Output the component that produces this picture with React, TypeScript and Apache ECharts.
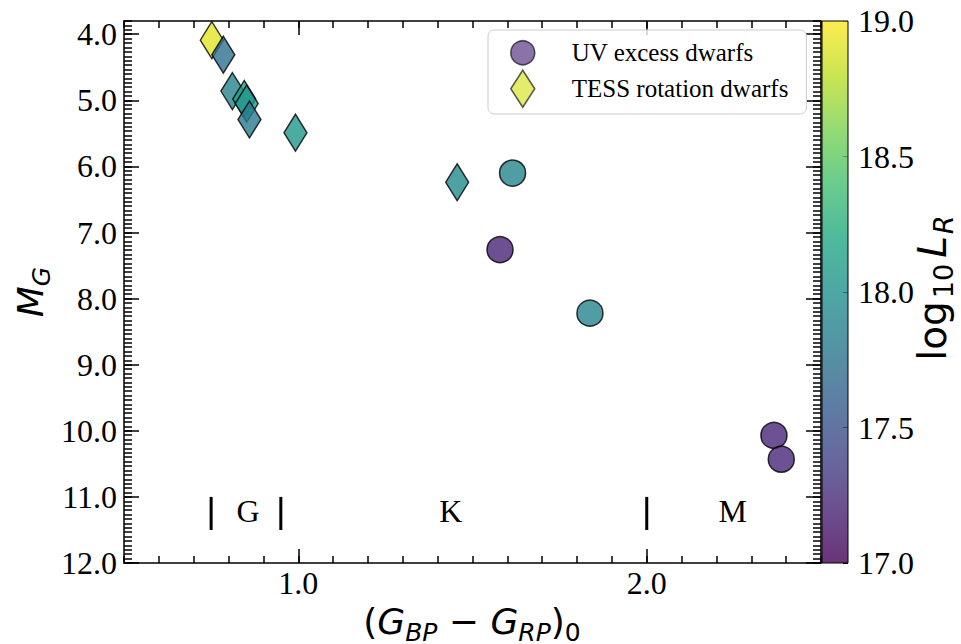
import { useEffect, useRef } from "react";
import * as echarts from "echarts";

// UV excess dwarfs
const uvColor = [1.615, 1.579, 1.837, 2.365, 2.386];
const uvMag = [6.1, 7.26, 8.22, 10.07, 10.43];
const uvLogLR = [17.9, 17.2, 17.9, 17.22, 17.22];

// TESS rotation dwarfs
const tessColor = [0.752, 0.785, 0.811, 0.845, 0.852, 0.86, 0.992, 1.456];
const tessMag = [4.09, 4.31, 4.86, 4.98, 5.05, 5.29, 5.49, 6.24];
const tessLogLR = [18.92, 17.74, 17.88, 18.12, 18.02, 17.82, 18.05, 17.95];

// axes
const xRange = [0.5, 2.5];
const yRange = [3.8, 12.0];
const cbRange = [17.0, 19.0];
const xMajorTicks = [1.0, 2.0];
const yMajorTicks = [4, 5, 6, 7, 8, 9, 10, 11, 12];
const cbTicks = [17.0, 17.5, 18.0, 18.5, 19.0];
const xMinorPerUnit = 10;
const yMinorPerUnit = 15;

// spectral class annotations
const classBoundaries = [0.75, 0.95, 2.0];
const boundarySpan = [11.0, 11.5];
const classLabels = ["G", "K", "M"];
const classLabelX = [0.856, 1.438, 2.247];
const classLabelY = [11.22, 11.22, 11.22];

const viridis = [
  "#440154", "#482475", "#414487", "#355f8d", "#2a788e", "#21918c",
  "#22a884", "#44bf70", "#7ad151", "#bddf26", "#fde725",
];

function rgba(hex: string, a: number) {
  const r = parseInt(hex.slice(1, 3), 16);
  const g = parseInt(hex.slice(3, 5), 16);
  const b = parseInt(hex.slice(5, 7), 16);
  return `rgba(${r},${g},${b},${a})`;
}

function minorTicks(range: number[], perUnit: number) {
  const out: number[] = [];
  const start = Math.ceil(range[0] * perUnit - 1e-9);
  const end = Math.floor(range[1] * perUnit + 1e-9);
  for (let k = start; k <= end; k++) out.push(k / perUnit);
  return out;
}

const SERIF = "'Liberation Serif', 'Times New Roman', serif";
const SANS = "'DejaVu Sans', sans-serif";

export default function App() {
  const ref = useRef<HTMLDivElement>(null);
  useEffect(() => {
    const chart = echarts.init(ref.current!, null, { renderer: "svg" });
    const tickLine = { color: "#000", width: 1.5 };
    const xMinor = minorTicks(xRange, xMinorPerUnit);
    const yMinor = minorTicks(yRange, yMinorPerUnit);

    const xAxisDef = (position: string, major: boolean) => ({
      type: "value",
      gridIndex: 0,
      position,
      min: xRange[0],
      max: xRange[1],
      axisLine: { show: major, onZero: false, lineStyle: tickLine },
      axisTick: {
        show: true,
        inside: true,
        length: major ? 14 : 7,
        customValues: major ? xMajorTicks : xMinor,
        lineStyle: tickLine,
      },
      axisLabel: { show: false },
      splitLine: { show: false },
    });
    const yAxisDef = (position: string, major: boolean) => ({
      type: "value",
      gridIndex: 0,
      position,
      inverse: true,
      min: yRange[0],
      max: yRange[1],
      axisLine: { show: major, onZero: false, lineStyle: tickLine },
      axisTick: {
        show: true,
        inside: true,
        length: major ? 15 : 8,
        customValues: major ? yMajorTicks : yMinor,
        lineStyle: tickLine,
      },
      axisLabel: { show: false },
      splitLine: { show: false },
    });

    const cbStops = viridis.map((c, i) => ({
      offset: i / (viridis.length - 1),
      color: rgba(c, 0.8),
    }));

    const boundarySeries = classBoundaries.map((b) => ({
      type: "line",
      xAxisIndex: 0,
      yAxisIndex: 0,
      data: [
        [b, boundarySpan[0]],
        [b, boundarySpan[1]],
      ],
      symbol: "none",
      lineStyle: { color: "#000", width: 3 },
      silent: true,
      z: 4,
    }));

    const tickLabelStyle = {
      show: true,
      fontFamily: SERIF,
      fontSize: 32,
      color: "#000",
      opacity: 1,
    };
    const labelSeries = (
      xIdx: number,
      yIdx: number,
      data: any[],
      position: string,
      distance: number,
      text: (p: any) => string
    ) => ({
      type: "scatter",
      xAxisIndex: xIdx,
      yAxisIndex: yIdx,
      symbolSize: 0,
      silent: true,
      clip: false,
      itemStyle: { opacity: 1, color: "transparent" },
      data,
      label: { ...tickLabelStyle, position, distance, formatter: text },
      z: 5,
    });

    const option: any = {
      animation: false,
      textStyle: { fontFamily: SERIF },
      grid: [
        { left: 124, top: 21, width: 697, height: 542, containLabel: false },
        { left: 822, top: 21, width: 26, height: 542, containLabel: false },
      ],
      xAxis: [
        xAxisDef("bottom", true),
        xAxisDef("bottom", false),
        xAxisDef("top", true),
        xAxisDef("top", false),
        {
          type: "category",
          gridIndex: 1,
          data: ["cb"],
          show: false,
        },
      ],
      yAxis: [
        yAxisDef("left", true),
        yAxisDef("left", false),
        yAxisDef("right", true),
        yAxisDef("right", false),
        {
          type: "value",
          gridIndex: 1,
          position: "right",
          min: cbRange[0],
          max: cbRange[1],
          interval: 0.5,
          axisLine: { show: false },
          axisTick: { show: true, inside: true, length: 5, lineStyle: { color: "#000", width: 1 } },
          axisLabel: { show: false },
          splitLine: { show: false },
        },
      ],
      visualMap: {
        type: "continuous",
        show: false,
        min: cbRange[0],
        max: cbRange[1],
        dimension: 2,
        seriesIndex: [0, 1],
        inRange: { color: viridis },
      },
      legend: {
        orient: "vertical",
        left: 488,
        top: 30,
        itemWidth: 24,
        itemHeight: 37,
        itemGap: 4,
        padding: [10, 18, 6, 22],
        borderColor: "#cccccc",
        borderWidth: 1,
        borderRadius: 6,
        backgroundColor: "rgba(255,255,255,0.8)",
        selectedMode: false,
        textStyle: { fontFamily: SERIF, fontSize: 25, color: "#000", padding: [0, 0, 0, 32] },
        data: [
          {
            name: "UV excess dwarfs",
            icon: "circle",
            itemStyle: { color: rgba("#482475", 0.8), borderColor: "rgba(0,0,0,0.8)", borderWidth: 1.5 },
          },
          {
            name: "TESS rotation dwarfs",
            icon: "diamond",
            itemStyle: { color: rgba("#d4e21a", 0.8), borderColor: "rgba(0,0,0,0.8)", borderWidth: 1.5 },
          },
        ],
      },
      series: [
        {
          name: "UV excess dwarfs",
          type: "scatter",
          xAxisIndex: 0,
          yAxisIndex: 0,
          symbol: "circle",
          symbolSize: 26,
          itemStyle: { borderColor: "#000", borderWidth: 1.5, opacity: 0.8 },
          data: uvColor.map((x, i) => [x, uvMag[i], uvLogLR[i]]),
          z: 3,
        },
        {
          name: "TESS rotation dwarfs",
          type: "scatter",
          xAxisIndex: 0,
          yAxisIndex: 0,
          symbol: "diamond",
          symbolSize: [23, 37],
          itemStyle: { borderColor: "#000", borderWidth: 1.5, opacity: 0.8 },
          data: tessColor.map((x, i) => [x, tessMag[i], tessLogLR[i]]),
          z: 3,
        },
        ...boundarySeries,
        labelSeries(
          0,
          0,
          classLabels.map((t, i) => [classLabelX[i], classLabelY[i], t]),
          "inside",
          0,
          (p: any) => p.data[2]
        ),
        // y tick labels
        labelSeries(
          0,
          0,
          yMajorTicks.map((v) => [xRange[0], v]),
          "left",
          7,
          (p: any) => Number(p.data[1]).toFixed(1)
        ),
        // x tick labels
        labelSeries(
          0,
          0,
          xMajorTicks.map((v) => [v, yRange[1]]),
          "bottom",
          4,
          (p: any) => Number(p.data[0]).toFixed(1)
        ),
        // colorbar tick labels
        labelSeries(
          4,
          4,
          cbTicks.map((v) => [0, v]),
          "right",
          23,
          (p: any) => Number(p.data[1]).toFixed(1)
        ),
        {
          type: "custom",
          xAxisIndex: 4,
          yAxisIndex: 4,
          silent: true,
          data: [[0, cbRange[1]]],
          renderItem: (params: any, api: any) => {
            const top = api.coord([0, cbRange[1]]);
            const bottom = api.coord([0, cbRange[0]]);
            const w = api.size([1, 0])[0];
            return {
              type: "rect",
              shape: { x: top[0] - w / 2, y: top[1], width: w, height: bottom[1] - top[1] },
              style: {
                fill: new echarts.graphic.LinearGradient(0, 1, 0, 0, cbStops),
                stroke: "#000",
                lineWidth: 1,
              },
            };
          },
        },
      ],
      graphic: [
        {
          type: "text",
          x: 30,
          y: 292,
          rotation: Math.PI / 2,
          style: {
            text: "{m|M}{s|G}",
            align: "center",
            verticalAlign: "middle",
            rich: {
              m: { fontFamily: SANS, fontStyle: "italic", fontSize: 36, fill: "#000", lineHeight: 48, verticalAlign: "middle" },
              s: { fontFamily: SANS, fontStyle: "italic", fontSize: 25, fill: "#000", lineHeight: 26, verticalAlign: "bottom" },
            },
          },
        },
        {
          type: "text",
          x: 472,
          y: 621,
          style: {
            text: "{r|(}{m|G}{s|BP}{r| − }{m|G}{s|RP}{r|)}{u|0}",
            align: "center",
            verticalAlign: "middle",
            rich: {
              r: { fontFamily: SANS, fontSize: 36, fill: "#000", lineHeight: 48, verticalAlign: "middle" },
              m: { fontFamily: SANS, fontStyle: "italic", fontSize: 36, fill: "#000", lineHeight: 48, verticalAlign: "middle" },
              s: { fontFamily: SANS, fontStyle: "italic", fontSize: 25, fill: "#000", lineHeight: 26, verticalAlign: "bottom" },
              u: { fontFamily: SANS, fontSize: 25, fill: "#000", lineHeight: 26, verticalAlign: "bottom" },
            },
          },
        },
        {
          type: "text",
          x: 932,
          y: 288,
          rotation: Math.PI / 2,
          style: {
            text: "{r|log}{u|10}{m|L}{s|R}",
            align: "center",
            verticalAlign: "middle",
            rich: {
              r: { fontFamily: SANS, fontSize: 39, fill: "#000", lineHeight: 50, verticalAlign: "middle" },
              m: { fontFamily: SANS, fontStyle: "italic", fontSize: 39, fill: "#000", lineHeight: 50, verticalAlign: "middle", padding: [0, 2, 0, 0] },
              s: { fontFamily: SANS, fontStyle: "italic", fontSize: 27, fill: "#000", lineHeight: 28, verticalAlign: "bottom" },
              u: { fontFamily: SANS, fontSize: 27, fill: "#000", lineHeight: 28, verticalAlign: "bottom", padding: [0, 6, 0, 3] },
            },
          },
        },
      ],
    };
    chart.setOption(option);
    return () => chart.dispose();
  }, []);
  return (
    <div
      ref={ref}
      style={{ position: "absolute", left: 0, top: 0, width: 961, height: 644 }}
    />
  );
}
